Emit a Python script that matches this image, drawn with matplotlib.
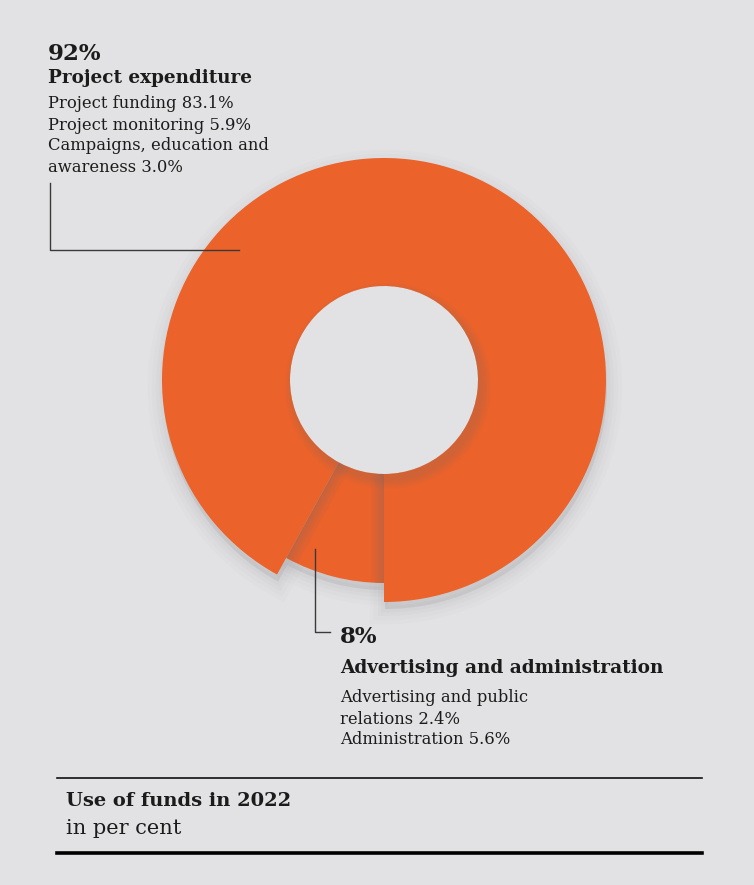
import matplotlib

matplotlib.use("Agg")
import matplotlib.pyplot as plt
from matplotlib.patches import Wedge, Circle

# data
SHARES = [92, 8]
SHARE_LABELS = ["92%", "8%"]
GROUP_NAMES = ["Project expenditure", "Advertising and administration"]
PROJECT_DETAILS = ["Project funding 83.1%", "Project monitoring 5.9%",
                   "Campaigns, education and", "awareness 3.0%"]
ADMIN_DETAILS = ["Advertising and public", "relations 2.4%", "Administration 5.6%"]
TITLE = "Use of funds in 2022"
SUBTITLE = "in per cent"

BG = "#e2e2e4"
ORANGE = "#eb622a"
INK = "#1b1b1b"
LINE = "#3a3a3a"
SHADOW = "#6f6f72"
W, H = 754, 885
SERIF = ["DejaVu Serif"]


def py(y):
    # pixel row (from top) -> data y (from bottom)
    return H - y


fig = plt.figure(figsize=(W / 100, H / 100), dpi=100)
fig.patch.set_facecolor(BG)
ax = fig.add_axes([0, 0, 1, 1])
ax.set_facecolor(BG)

cx, cy = 384, py(380)
r_out, r_in, r_small = 222, 94, 203

wedges, _ = ax.pie(SHARES, startangle=270, counterclock=True, radius=r_out,
                   center=(cx, cy), colors=[ORANGE, ORANGE],
                   wedgeprops=dict(width=r_out - r_in, linewidth=0))
wedges[1].set_radius(r_small)
wedges[1].set_width(r_small - r_in)
for w in wedges:
    w.set_zorder(3)

# soft drop shadow under the ring (mostly below)
for wd in wedges:
    for lw, a in ((22, 0.02), (16, 0.025), (10, 0.03), (5, 0.035)):
        sh = Wedge((wd.center[0] + 1, wd.center[1] - 7), wd.r, wd.theta1, wd.theta2,
                   width=wd.width, facecolor=SHADOW, edgecolor=SHADOW,
                   linewidth=lw, alpha=a, zorder=1)
        ax.add_patch(sh)
ax.add_patch(Circle((cx, cy), r_in, facecolor=BG, edgecolor="none", zorder=2))

# fuzzy edge of the big slice falling on the small one
big = wedges[0]
for lw in (18, 13, 9, 5, 2):
    fz = Wedge(big.center, big.r, big.theta1, big.theta2, width=big.width,
               facecolor="none", edgecolor=SHADOW, linewidth=lw, alpha=0.07, zorder=4)
    ax.add_patch(fz)
    fz.set_clip_path(wedges[1])

# hole casts a soft shadow down-right onto the ring
for wd in wedges:
    for extra in (1, 3, 5, 7, 9):
        hs = Circle((cx + 4, cy - 6), r_in + extra, facecolor=SHADOW,
                    edgecolor="none", alpha=0.045, zorder=4)
        ax.add_patch(hs)
        hs.set_clip_path(wd)

ax.set_xlim(0, W)
ax.set_ylim(0, H)
ax.set_aspect("equal")
ax.axis("off")

# upper-left annotation
ax.text(48, py(54), SHARE_LABELS[0], fontsize=16.5, weight="bold", color=INK,
        family=SERIF, va="center", ha="left")
ax.text(48, py(78), GROUP_NAMES[0], fontsize=13.2, weight="bold", color=INK,
        family=SERIF, va="center", ha="left")
for i, line in enumerate(PROJECT_DETAILS):
    ax.text(48, py(104 + 21 * i), line, fontsize=11.8, color=INK,
            family=SERIF, va="center", ha="left")
ax.plot([50, 50, 239], [py(183), py(250), py(250)], color=LINE, lw=1.0, zorder=6)

# lower annotation
ax.plot([315, 315, 330], [py(549), py(632), py(632)], color=LINE, lw=1.0, zorder=6)
ax.text(340, py(637), SHARE_LABELS[1], fontsize=16.5, weight="bold", color=INK,
        family=SERIF, va="center", ha="left")
ax.text(340, py(668), GROUP_NAMES[1], fontsize=13.3, weight="bold", color=INK,
        family=SERIF, va="center", ha="left")
for i, line in enumerate(ADMIN_DETAILS):
    ax.text(340, py(698 + 21 * i), line, fontsize=11.8, color=INK,
            family=SERIF, va="center", ha="left")

# footer
ax.plot([57, 702], [py(778), py(778)], color="#111111", lw=1.2)
ax.plot([57, 702], [py(853), py(853)], color="#000000", lw=2.6)
ax.text(66, py(801), TITLE, fontsize=14, weight="bold", color=INK,
        family=SERIF, va="center", ha="left")
ax.text(66, py(829), SUBTITLE, fontsize=15, color=INK,
        family=SERIF, va="center", ha="left")

fig.savefig("out.png", dpi=100, facecolor=BG)
